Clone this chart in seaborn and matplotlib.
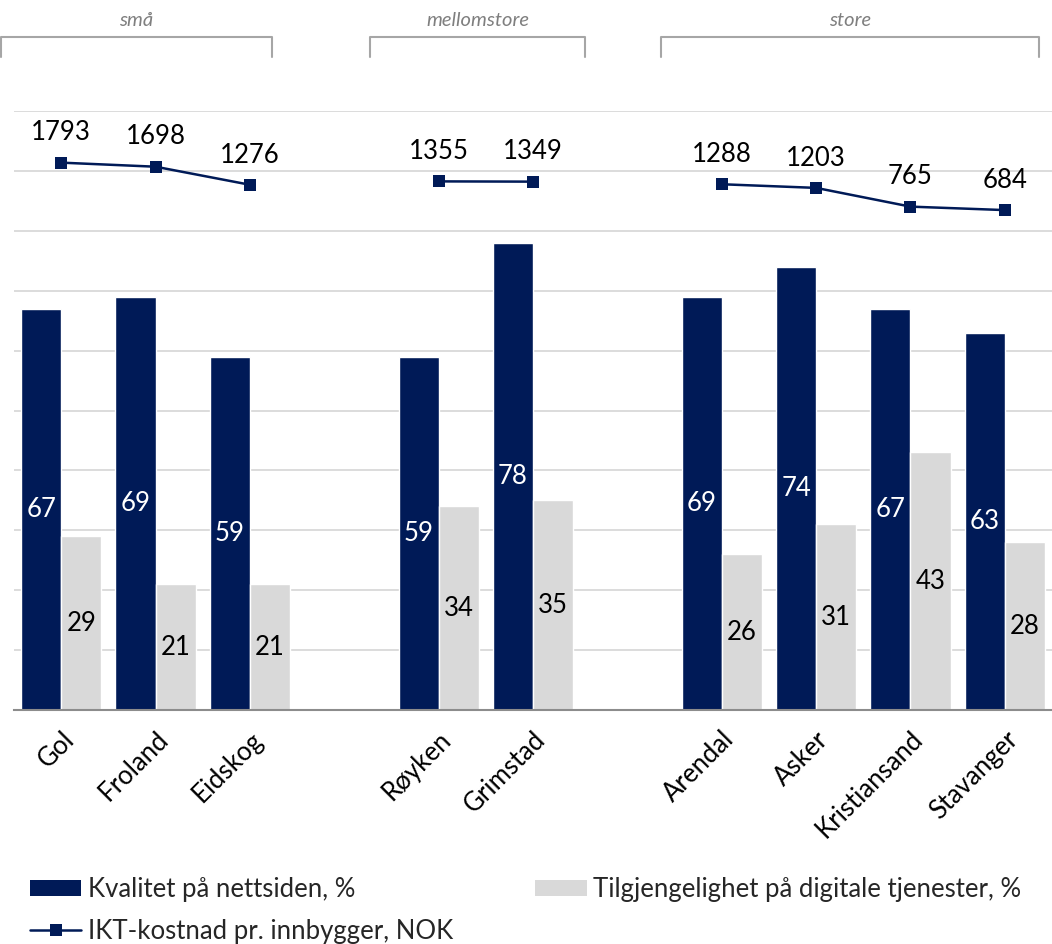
import numpy as np
import pandas as pd
import matplotlib
matplotlib.use("Agg")
import matplotlib.pyplot as plt
from matplotlib.patches import Patch
from matplotlib.lines import Line2D
import seaborn as sns

# data
kommuner = ["Gol", "Froland", "Eidskog", "Røyken", "Grimstad",
            "Arendal", "Asker", "Kristiansand", "Stavanger"]
grupper = ["små", "små", "små", "mellomstore", "mellomstore",
           "store", "store", "store", "store"]
kvalitet = [67, 69, 59, 59, 78, 69, 74, 67, 63]
tilgjengelighet = [29, 21, 21, 34, 35, 26, 31, 43, 28]
ikt_kostnad = [1793, 1698, 1276, 1355, 1349, 1288, 1203, 765, 684]

serie_kval = "Kvalitet på nettsiden, %"
serie_tilg = "Tilgjengelighet på digitale tjenester, %"
serie_ikt = "IKT-kostnad pr. innbygger, NOK"

NAVY = "#001A57"
GREY = "#D9D9D9"
FS = 18.5

sns.set_theme(style="white")
plt.rcParams["font.family"] = ["Lato", "DejaVu Sans"]

# category order with empty slots between the size groups
order = []
for i, k in enumerate(kommuner):
    if i > 0 and grupper[i] != grupper[i - 1]:
        order.append(" " * len(order))
    order.append(k)
pos = {k: order.index(k) for k in kommuner}

df = pd.DataFrame({
    "kommune": kommuner * 2,
    "serie": [serie_kval] * len(kommuner) + [serie_tilg] * len(kommuner),
    "verdi": kvalitet + tilgjengelighet,
})
df_line = pd.DataFrame({
    "x": [pos[k] for k in kommuner],
    "kost": ikt_kostnad,
    "gruppe": grupper,
})

fig = plt.figure(figsize=(10.52, 9.44), dpi=100)
W, H = 1052, 944
ax = fig.add_axes([14 / W, 1 - 710 / H, (1052 - 14) / W, (710 - 111) / H])

sns.barplot(data=df, x="kommune", y="verdi", hue="serie", order=order,
            hue_order=[serie_kval, serie_tilg], palette=[NAVY, GREY],
            width=0.85, saturation=1, legend=False, ax=ax)

ax.set_ylim(0, 100)
ax.set_xlim(-0.5, len(order) - 0.5)
ax.set_yticks(np.arange(0, 101, 10))
ax.yaxis.grid(True, color="#D9D9D9", lw=1.3)
ax.set_axisbelow(True)
ax.tick_params(axis="y", which="both", left=False, right=False, length=0,
               labelleft=False)
ax.set_xlabel("")
ax.set_ylabel("")
for s in ["top", "right", "left"]:
    ax.spines[s].set_visible(False)
ax.spines["bottom"].set_color("#8C8C8C")
ax.spines["bottom"].set_linewidth(1.5)

ax.set_xticks(range(len(order)))
ax.set_xticklabels([o.strip() for o in order], rotation=45, ha="right",
                   va="top", rotation_mode="anchor", fontsize=FS, color="black")
ax.tick_params(axis="x", bottom=False, length=0, pad=12)

lbl_colors = ["white", "black"]
for cont, c in zip(ax.containers, lbl_colors):
    ax.bar_label(cont, label_type="center", color=c, fontsize=FS)

# cost line on secondary axis
ax2 = ax.twinx()
sns.lineplot(data=df_line, x="x", y="kost", units="gruppe", estimator=None,
             color=NAVY, lw=1.8, marker="s", markersize=9, markeredgewidth=0,
             ax=ax2)
ax2.set_ylim(-11000, 3000)
ax2.set_xlim(-0.5, len(order) - 0.5)
ax2.axis("off")
for x, v in zip(df_line["x"], df_line["kost"]):
    ax2.annotate(str(v), (x, v), xytext=(0, 16), textcoords="offset points",
                 ha="center", va="baseline", fontsize=FS, color="black")

# group brackets above the plot
def bracket(x0, x1, label):
    y_top = 1 - 37 / H
    y_bot = 1 - 57 / H
    xs = [x0 / W, x0 / W, x1 / W, x1 / W]
    ys = [y_bot, y_top, y_top, y_bot]
    fig.add_artist(Line2D(xs, ys, color="#A6A6A6", lw=1.5))
    fig.text((x0 + x1) / 2 / W, 1 - 20 / H, label, ha="center", va="center",
             fontsize=14.5, style="italic", color="#7F7F7F")

bracket(1, 272, "små")
bracket(370, 585, "mellomstore")
bracket(661, 1039, "store")

handles = [
    Patch(facecolor=NAVY, edgecolor="none"),
    Line2D([], [], color=NAVY, lw=1.8, marker="s", markersize=9, markeredgewidth=0),
    Patch(facecolor=GREY, edgecolor="none"),
]
labels = [serie_kval, serie_ikt, serie_tilg]
fig.legend(handles, labels, loc="upper left", bbox_to_anchor=(30 / W, 1 - 877 / H),
           ncol=2, frameon=False, fontsize=FS, handlelength=2.0, handleheight=0.6,
           handletextpad=0.25, columnspacing=3.2, labelspacing=0.65, borderpad=0,
           borderaxespad=0)

fig.savefig("out.png", dpi=100)
